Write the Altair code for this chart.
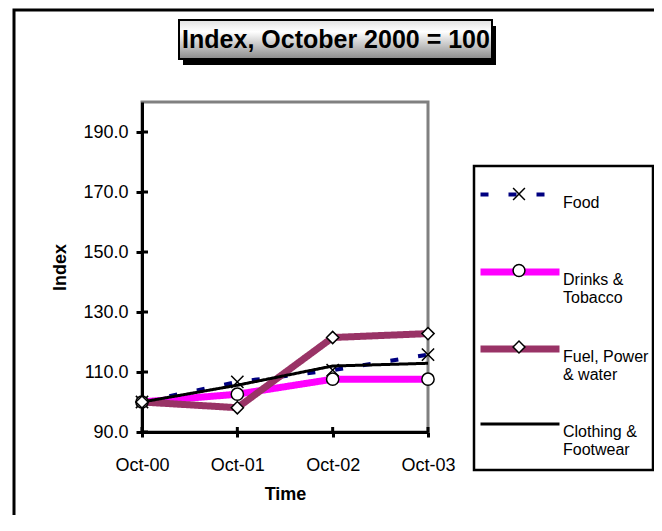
import altair as alt
import pandas as pd

periods = ["Oct-00", "Oct-01", "Oct-02", "Oct-03"]
series_names = ["Food", "Drinks & Tobacco", "Fuel, Power & water", "Clothing & Footwear"]
food = [100.0, 106.7, 110.6, 115.8]
drinks = [100.0, 102.6, 107.6, 107.6]
fuel = [100.0, 98.1, 121.5, 122.8]
clothing = [100.0, 105.6, 112.0, 112.9]
legend_lines = [["Food", " "], ["Drinks &", "Tobacco"], ["Fuel, Power", "& water"], ["Clothing &", "Footwear"]]
y_ticks = [90, 110, 130, 150, 170, 190]
title_text = "Index, October 2000 = 100"
y_title = "Index"
x_title = "Time"

colors = ["#000080", "#FF00FF", "#993366", "#000000"]
widths = [4, 7, 7, 3]
dashes = [[8, 20], [1, 0], [1, 0], [1, 0]]
marker_series = series_names[:3]
marker_shapes = ["M-1,-1L1,1M1,-1L-1,1", "circle", "diamond"]

FONT = "Liberation Sans"

rows = []
for name, vals in zip(series_names, [food, drinks, fuel, clothing]):
    for p, v in zip(periods, vals):
        rows.append({"period": p, "series": name, "value": v})
lines_df = pd.DataFrame(rows)
points_df = lines_df[lines_df["series"].isin(marker_series)].rename(columns={"series": "marker"})
ticks_df = pd.DataFrame({"value": y_ticks})
xticks_df = pd.DataFrame({"period": periods})


def lines_expr():
    parts = []
    for name, lines in zip(series_names, legend_lines):
        arr = "[" + ",".join("'" + l.replace("'", "\\'") + "'" for l in lines) + "]"
        parts.append(f"datum.label == '{name}' ? {arr} : ")
    return "".join(parts) + "datum.label"


x_scale = alt.Scale(type="point", domain=periods, padding=0)
y_scale = alt.Scale(domain=[90, 200], nice=False, zero=False)

x_axis = alt.Axis(title=x_title, labelAngle=0, labelFontSize=18, labelFont=FONT,
                  titleFont=FONT, titleFontSize=18, titleFontWeight="bold",
                  labelColor="black", titleColor="black", tickSize=5, tickWidth=3,
                  tickColor="black", domainColor="black", domainWidth=3,
                  labelPadding=19, titlePadding=11, grid=False)
y_axis = alt.Axis(title=y_title, values=y_ticks, format=".1f", labelFontSize=18,
                  labelFont=FONT, titleFont=FONT, titleFontSize=18,
                  titleFontWeight="bold", labelColor="black", titleColor="black",
                  tickSize=6, tickWidth=3, tickColor="black", domainColor="black",
                  domainWidth=3, labelPadding=8, titlePadding=13, grid=False)

one = alt.Data(values=[{"a": 1}])

frame = alt.Chart(one).mark_rect(fillOpacity=0, stroke="black", strokeWidth=3).encode(
    x=alt.value(-128), x2=alt.value(518), y=alt.value(-92), y2=alt.value(440))

shadow = alt.Chart(one).mark_rect(fill="black").encode(
    x=alt.value(41), x2=alt.value(354), y=alt.value(-76), y2=alt.value(-37))

grad = alt.LinearGradient(gradient="linear", x1=0, y1=0, x2=0, y2=1,
                          stops=[alt.GradientStop(offset=0, color="#e0e0e0"),
                                 alt.GradientStop(offset=0.3, color="#ffffff"),
                                 alt.GradientStop(offset=1, color="#8a8a8a")])
tbox = alt.Chart(one).mark_rect(fill=grad, stroke="black", strokeWidth=2).encode(
    x=alt.value(37), x2=alt.value(350), y=alt.value(-82), y2=alt.value(-43))

ttext = alt.Chart(one).mark_text(font=FONT, fontSize=25, fontWeight="bold", color="black",
                                 align="center", baseline="middle").encode(
    x=alt.value(194), y=alt.value(-62), text=alt.value(title_text))

legbox = alt.Chart(one).mark_rect(fillOpacity=0, stroke="black", strokeWidth=2.5).encode(
    x=alt.value(332), x2=alt.value(511), y=alt.value(64), y2=alt.value(368))

yticks_in = alt.Chart(ticks_df).mark_rule(color="black", strokeWidth=3).encode(
    y=alt.Y("value:Q", scale=y_scale, axis=y_axis), x=alt.value(0), x2=alt.value(6))
xticks_in = alt.Chart(xticks_df).mark_rule(color="black", strokeWidth=3).encode(
    x=alt.X("period:N", scale=x_scale, axis=x_axis), y=alt.value(330), y2=alt.value(325))

leg = dict(orient="none", legendX=332, legendY=48, title=None, symbolType="stroke",
           symbolSize=6241, labelFontSize=16, labelFont=FONT, labelColor="black",
           labelBaseline="top", labelOffset=0, padding=3, rowPadding=0,
           labelExpr=lines_expr(), labelLimit=200)

lines = alt.Chart(lines_df).mark_line(strokeCap="butt", strokeJoin="miter").encode(
    x=alt.X("period:N", scale=x_scale, sort=periods, axis=x_axis),
    y=alt.Y("value:Q", scale=y_scale, axis=y_axis),
    color=alt.Color("series:N", scale=alt.Scale(domain=series_names, range=colors),
                    legend=alt.Legend(**leg)),
    strokeDash=alt.StrokeDash("series:N", scale=alt.Scale(domain=series_names, range=dashes),
                              legend=alt.Legend(**leg)),
    strokeWidth=alt.StrokeWidth("series:N",
                                scale=alt.Scale(type="ordinal", domain=series_names, range=widths),
                                legend=alt.Legend(**leg)),
)

mleg = dict(orient="none", legendX=366, legendY=81, title=None,
            symbolSize=140, labelExpr="''", labelFontSize=16,
            padding=3, rowPadding=58.5,
            symbolFillColor="white", symbolStrokeColor="black",
            symbolStrokeWidth=1.5, symbolOpacity=1)

points = alt.Chart(points_df).mark_point(filled=False, fill="white",
                                         strokeWidth=1.5, size=150, opacity=1,
                                         fillOpacity=1).encode(
    x=alt.X("period:N", scale=x_scale, axis=x_axis),
    y=alt.Y("value:Q", scale=y_scale, axis=y_axis),
    shape=alt.Shape("marker:N", scale=alt.Scale(domain=marker_series, range=marker_shapes),
                    legend=alt.Legend(**mleg)),
    stroke=alt.Stroke("marker:N", scale=alt.Scale(domain=marker_series,
                                                  range=["black"] * len(marker_series)),
                      legend=alt.Legend(**mleg)),
)

chart = alt.layer(frame, shadow, tbox, ttext, legbox, yticks_in, xticks_in, lines, points).properties(
    width=286, height=330,
    padding={"left": 134, "top": 94, "right": 226, "bottom": 83},
    autosize=alt.AutoSizeParams(type="none"),
    background="white",
).configure(
    view=alt.ViewConfig(stroke="#808080", strokeWidth=3),
    style={"guide-label": {"lineHeight": 18}})

chart.save("out.html", embed_options={"renderer": "svg", "actions": False})
